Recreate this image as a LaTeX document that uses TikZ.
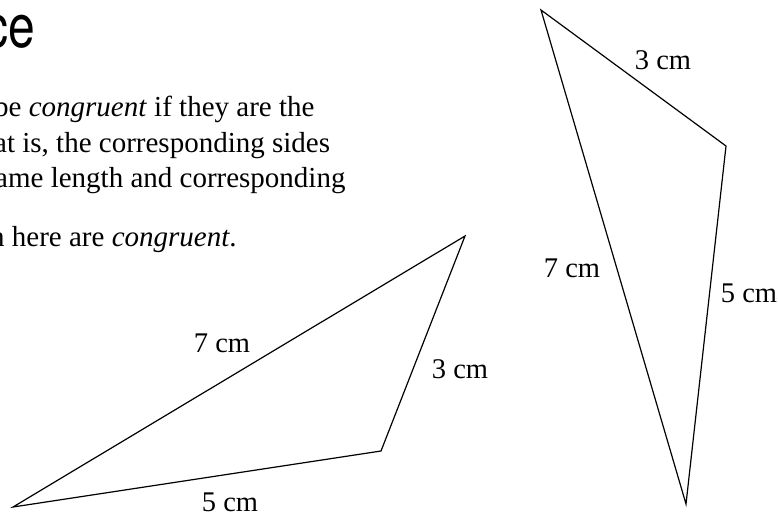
\documentclass[tikz,border=0pt]{standalone}
\usepackage{fontspec}
\setmainfont{Liberation Serif}
\newfontfamily\headfont{TeX Gyre Heros}

\begin{document}
\begin{tikzpicture}[x=1pt,y=-1pt,
  side/.style={draw,line width=1.2pt,line join=miter},
  len/.style={anchor=base,inner sep=0pt,font=\fontsize{28.5}{34}\selectfont},
  txt/.style={anchor=base west,inner sep=0pt,font=\fontsize{29}{36}\selectfont}]
\useasboundingbox (0,0) rectangle (778,515);
% heading and text, cut at the left edge
\node[anchor=base east,inner sep=0pt,xscale=0.8,font=\headfont\fontsize{60}{60}\selectfont] (head) at (35,47) {ce};
\node[txt] (line1) at (-6,116) {be \textit{congruent} if they are the};
\node[txt] (line2) at (-6,152) {at is, the corresponding sides};
\node[txt] (line3) at (-5,187) {ame length and corresponding};
\node[txt] (line4) at (-10,246) {n here are \textit{congruent}.};
% first triangle
\coordinate (a1) at (13,507);
\coordinate (a2) at (381,451);
\coordinate (a3) at (465,236);
\draw[side] (a1) -- (a2) -- (a3) -- cycle;
\node[len] (a7) at (222,352) {7 cm};
\node[len] (a3cm) at (460,378) {3 cm};
\node[len] (a5) at (230,511) {5 cm};
% second triangle
\coordinate (b1) at (541,10);
\coordinate (b2) at (726,146);
\coordinate (b3) at (686,504);
\draw[side] (b1) -- (b2) -- (b3) -- cycle;
\node[len] (b3cm) at (663,69) {3 cm};
\node[len] (b7) at (572,277) {7 cm};
\node[len] (b5) at (749,302) {5 cm};
\end{tikzpicture}
\end{document}
